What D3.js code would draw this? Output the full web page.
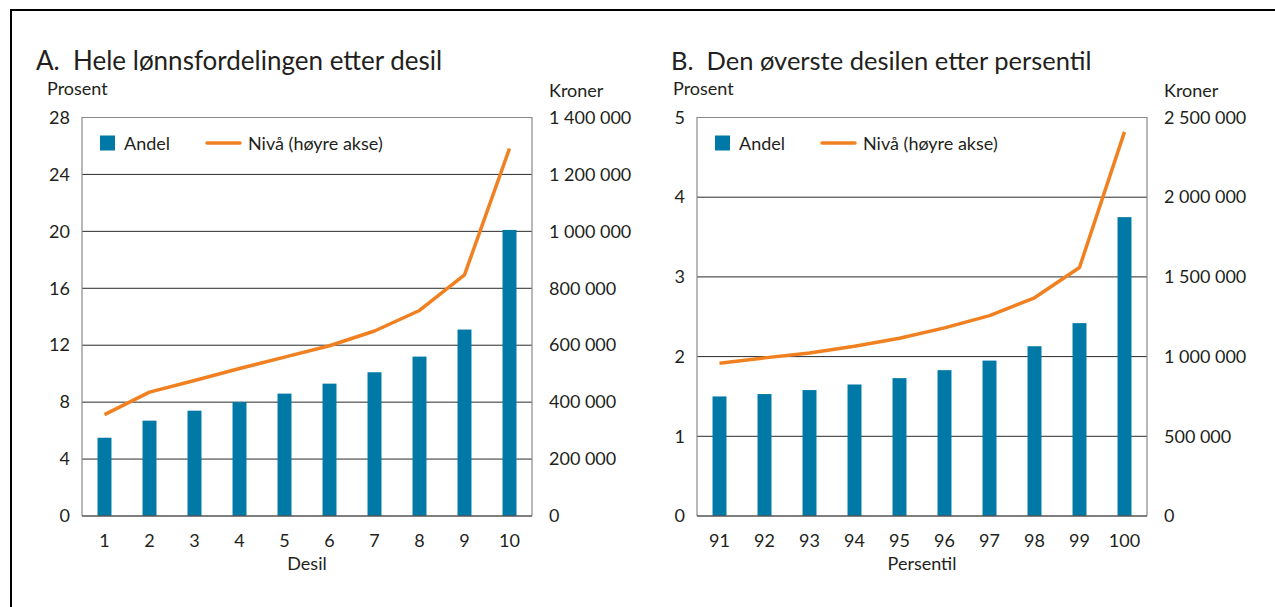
<!DOCTYPE html>
<html>
<head>
<meta charset="utf-8">
<script src="https://cdn.jsdelivr.net/npm/d3@7"></script>
<style>
  html, body { margin: 0; padding: 0; background: #fff; }
  svg { display: block; font-family: Lato, "Open Sans", sans-serif; }
  text { fill: #231f20; white-space: pre; }
</style>
</head>
<body>
<div id="chart"></div>
<script>
// Panel A: hele lønnsfordelingen etter desil
const desiler = ['1', '2', '3', '4', '5', '6', '7', '8', '9', '10'];
const andelDesil = [5.5, 6.7, 7.4, 8.0, 8.6, 9.3, 10.1, 11.2, 13.1, 20.1];
const nivaDesil = [356000, 435000, 476000, 518000, 558000, 598000, 650000, 722000, 847000, 1291000];
const ticksProsentA = [0, 4, 8, 12, 16, 20, 24, 28];
const ticksKronerA = [0, 200000, 400000, 600000, 800000, 1000000, 1200000, 1400000];

// Panel B: den øverste desilen etter persentil
const persentiler = ['91', '92', '93', '94', '95', '96', '97', '98', '99', '100'];
const andelPersentil = [1.50, 1.53, 1.58, 1.65, 1.73, 1.83, 1.95, 2.13, 2.42, 3.75];
const nivaPersentil = [958000, 992000, 1023000, 1065000, 1115000, 1180000, 1257000, 1369000, 1559000, 2410000];
const ticksProsentB = [0, 1, 2, 3, 4, 5];
const ticksKronerB = [0, 500000, 1000000, 1500000, 2000000, 2500000];

const W = 1275, H = 607;
const BAR = '#0079a6', LINE = '#f08020', GRID = '#2b2b2b', FRAME = '#8a8a8a';

const nb = d3.formatLocale({ decimal: ',', thousands: ' ', grouping: [3], currency: ['', ' kr'] });
const fmtKr = nb.format(',');
const fmtPst = nb.format('d');

const svg = d3.select('#chart').append('svg')
  .attr('width', W).attr('height', H);

// outer frame (right and bottom edges fall outside the picture)
svg.append('rect')
  .attr('x', 11).attr('y', 10)
  .attr('width', W + 20).attr('height', H + 20)
  .attr('fill', 'none').attr('stroke', '#000').attr('stroke-width', 2);

function drawPanel(p) {
  const g = svg.append('g');
  const top = 117.5, bottom = 516;

  const x = d3.scaleBand().domain(p.cats)
    .range([p.left, p.right])
    .paddingInner(0.69).paddingOuter(0.345);
  const yL = d3.scaleLinear().domain([0, p.maxL]).range([bottom, top]);
  const yR = d3.scaleLinear().domain([0, p.maxR]).range([bottom, top]);

  // title and axis titles
  g.append('text').attr('x', p.titleX).attr('y', 70)
    .attr('font-size', p.titleSize).text(p.title);
  g.append('text').attr('x', p.prosentX).attr('y', 95)
    .attr('font-size', 18).text('Prosent');
  g.append('text').attr('x', p.right + 17).attr('y', 97)
    .attr('font-size', 18).text('Kroner');

  // gridlines
  g.append('g').selectAll('line')
    .data(p.ticksL.filter(d => d > 0 && d < p.maxL))
    .join('line')
    .attr('x1', p.left).attr('x2', p.right)
    .attr('y1', d => yL(d)).attr('y2', d => yL(d))
    .attr('stroke', GRID).attr('stroke-width', 1);

  // bars
  g.append('g').selectAll('rect')
    .data(p.andel)
    .join('rect')
    .attr('x', (d, i) => x(p.cats[i]))
    .attr('y', d => yL(d))
    .attr('width', x.bandwidth())
    .attr('height', d => bottom - yL(d))
    .attr('fill', BAR);

  // frame: left, top, right in grey, bottom darker
  g.append('path')
    .attr('d', `M${p.left},${bottom}V${top}H${p.right}V${bottom}`)
    .attr('fill', 'none').attr('stroke', FRAME).attr('stroke-width', 1.2);
  g.append('line')
    .attr('x1', p.left).attr('x2', p.right)
    .attr('y1', bottom).attr('y2', bottom)
    .attr('stroke', '#555').attr('stroke-width', 1.5);

  // level line
  const line = d3.line()
    .x((d, i) => x(p.cats[i]) + x.bandwidth() / 2)
    .y(d => yR(d));
  g.append('path').datum(p.niva)
    .attr('d', line)
    .attr('fill', 'none').attr('stroke', LINE)
    .attr('stroke-width', 3.5).attr('stroke-linejoin', 'round');

  // axes
  const axL = g.append('g').attr('transform', `translate(${p.left - 12},0)`)
    .call(d3.axisLeft(yL).tickValues(p.ticksL).tickSize(0).tickPadding(0).tickFormat(fmtPst));
  const axR = g.append('g').attr('transform', `translate(${p.right + 17},0)`)
    .call(d3.axisRight(yR).tickValues(p.ticksR).tickSize(0).tickPadding(0).tickFormat(fmtKr));
  const axX = g.append('g').attr('transform', `translate(0,${bottom + 10})`)
    .call(d3.axisBottom(x).tickSize(0).tickPadding(8));
  [axL, axR, axX].forEach(a => {
    a.select('.domain').remove();
    a.selectAll('text').attr('font-size', 18).attr('fill', '#231f20')
      .style('font-family', 'Lato, "Open Sans", sans-serif');
  });

  g.append('text')
    .attr('x', (p.left + p.right) / 2).attr('y', 570)
    .attr('text-anchor', 'middle').attr('font-size', 18)
    .text(p.xTitle);

  // legend
  const lg = g.append('g').attr('transform', `translate(${p.left + 18},143)`);
  lg.append('rect').attr('x', 0).attr('y', -7.5)
    .attr('width', 15).attr('height', 15).attr('fill', BAR);
  lg.append('text').attr('x', 24).attr('y', 6.5)
    .attr('font-size', 18).text('Andel');
  lg.append('line').attr('x1', 107).attr('x2', 140)
    .attr('y1', 0).attr('y2', 0)
    .attr('stroke', LINE).attr('stroke-width', 3.5).attr('stroke-linecap', 'round');
  lg.append('text').attr('x', 148).attr('y', 6.5)
    .attr('font-size', 18).text('Nivå (høyre akse)');
}

drawPanel({
  title: 'A.  Hele lønnsfordelingen etter desil', xTitle: 'Desil',
  titleX: 36, titleSize: 26, prosentX: 47, left: 82, right: 532,
  cats: desiler, andel: andelDesil, niva: nivaDesil,
  maxL: 28, maxR: 1400000, ticksL: ticksProsentA, ticksR: ticksKronerA
});
drawPanel({
  title: 'B.  Den øverste desilen etter persentil', xTitle: 'Persentil',
  titleX: 671, titleSize: 25.5, prosentX: 673, left: 697, right: 1147,
  cats: persentiler, andel: andelPersentil, niva: nivaPersentil,
  maxL: 5, maxR: 2500000, ticksL: ticksProsentB, ticksR: ticksKronerB
});
</script>
</body>
</html>
